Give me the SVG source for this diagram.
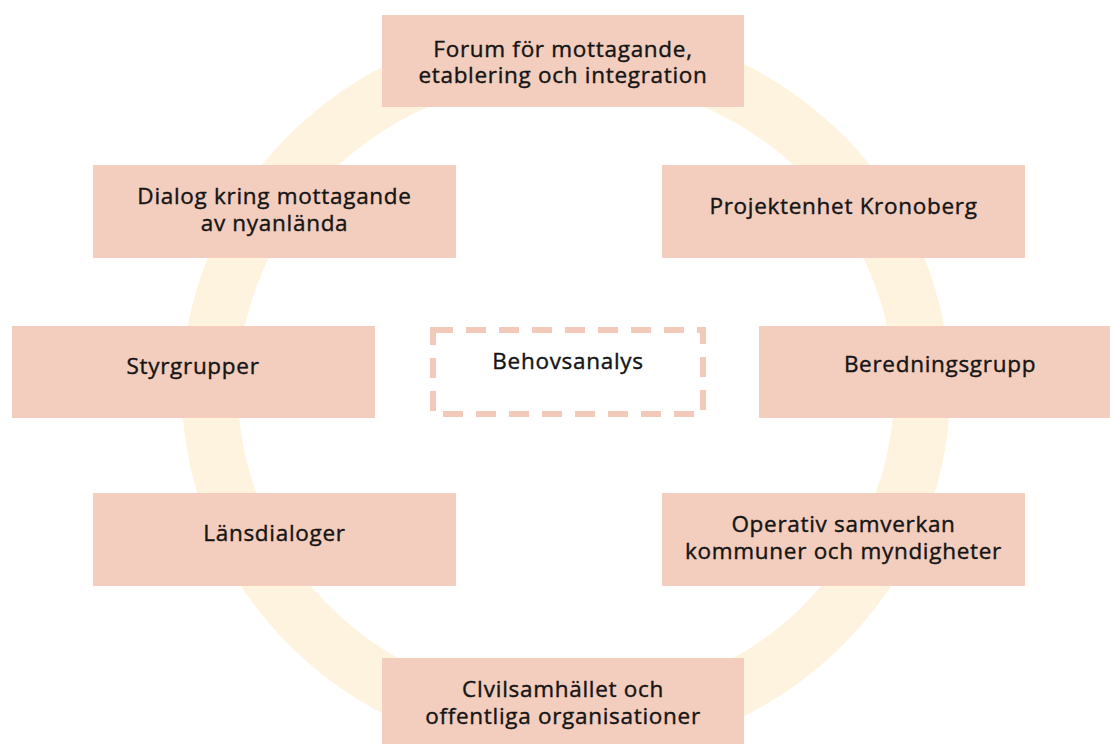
<svg xmlns="http://www.w3.org/2000/svg" width="1110" height="744" viewBox="0 0 1110 744">
  <style>
    .box { fill: #F3CDBD; }
    .lbl { font-family: "Open Sans", "Liberation Sans", sans-serif; font-size: 22.5px; fill: #151515; stroke: #151515; stroke-width: 0.4px; text-anchor: middle; letter-spacing: 0.7px; }
    .ring { fill: none; stroke: #FEF3DF; stroke-width: 56; }
    .dash { fill: none; stroke: #F3CABA; stroke-width: 6; stroke-dasharray: 20 13; }
  </style>
  <rect x="0" y="0" width="1110" height="744" fill="#ffffff"/>
  <g id="connectors">
    <ellipse class="ring" cx="566" cy="390" rx="356" ry="340"/>
  </g>
  <g id="n-forum">
    <rect class="box" x="382" y="15" width="362" height="92"/>
    <text class="lbl" x="563" y="57">Forum för mottagande,<tspan x="563" dy="26">etablering och integration</tspan></text>
  </g>
  <g id="n-dialog">
    <rect class="box" x="93" y="165" width="363" height="93"/>
    <text class="lbl" x="274.5" y="204">Dialog kring mottagande<tspan x="274.5" dy="27">av nyanlända</tspan></text>
  </g>
  <g id="n-projekt">
    <rect class="box" x="662" y="165" width="363" height="93"/>
    <text class="lbl" x="843.5" y="214">Projektenhet Kronoberg</text>
  </g>
  <g id="n-styr">
    <rect class="box" x="12" y="326" width="363" height="92"/>
    <text class="lbl" x="193" y="374">Styrgrupper</text>
  </g>
  <g id="n-behov">
    <rect class="dash" x="433" y="330" width="270" height="84"/>
    <text class="lbl" x="568" y="369">Behovsanalys</text>
  </g>
  <g id="n-bered">
    <rect class="box" x="759" y="326" width="363" height="92"/>
    <text class="lbl" x="940" y="372">Beredningsgrupp</text>
  </g>
  <g id="n-lans">
    <rect class="box" x="93" y="493" width="363" height="93"/>
    <text class="lbl" x="274.5" y="541">Länsdialoger</text>
  </g>
  <g id="n-operativ">
    <rect class="box" x="662" y="493" width="363" height="93"/>
    <text class="lbl" x="843.5" y="532">Operativ samverkan<tspan x="843.5" dy="27">kommuner och myndigheter</tspan></text>
  </g>
  <g id="n-civil">
    <rect class="box" x="382" y="658" width="362" height="92"/>
    <text class="lbl" x="563" y="697">CIvilsamhället och<tspan x="563" dy="27">offentliga organisationer</tspan></text>
  </g>
</svg>
